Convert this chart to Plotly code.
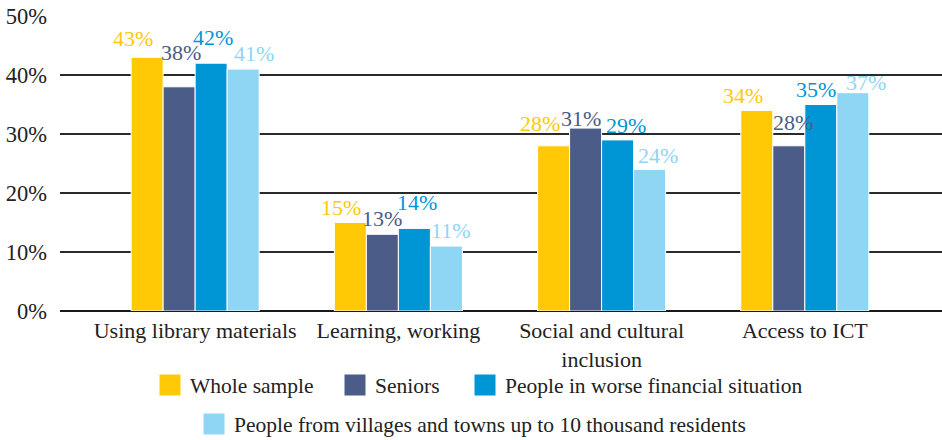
import plotly.graph_objects as go

categories = ["Using library materials", "Learning, working", "Social and cultural<br>inclusion", "Access to ICT"]
series_names = ["Whole sample", "Seniors", "People in worse financial situation",
                "People from villages and towns up to 10 thousand residents"]
whole_sample = [43, 15, 28, 34]
seniors = [38, 13, 31, 28]
worse_financial = [42, 14, 29, 35]
villages_towns = [41, 11, 24, 37]
y_ticks = [0, 10, 20, 30, 40, 50]
y_tick_labels = ["0%", "10%", "20%", "30%", "40%", "50%"]

colors = ["#FFC906", "#4A5C87", "#0096D6", "#8FD6F5"]
all_values = [whole_sample, seniors, worse_financial, villages_towns]

# label nudges (style only): per series, per category -> (dx px, px above bar top)
label_nudges = [
    [(-14, 19), (-9, 15), (-14, 22), (-14, 15)],
    [(2, 34), (0, 16), (-5, 10), (4, 23)],
    [(2, 26), (3, 26), (8, 14), (-5, 15)],
    [(11, 16), (5, 16), (8, 14), (13, 10)],
]
# legend placement (style): container x of text start, row y in px
legend_text_x = [190, 375, 505, 234]
legend_row_y = [385, 385, 385, 424]

FONT = "Liberation Serif, Times New Roman, serif"
BARGAP = 0.37
n_series = len(series_names)
bar_w = (1 - BARGAP) / n_series

fig = go.Figure()
annotations = []
legend_layouts = {}
for j, (name, vals, c) in enumerate(zip(series_names, all_values, colors)):
    lg = "legend" if j == 0 else f"legend{j + 1}"
    fig.add_trace(go.Bar(
        x=categories, y=vals, name=name, showlegend=False,
        marker=dict(color=c, line=dict(color="white", width=1)),
    ))
    fig.add_trace(go.Scatter(
        x=[None], y=[None], mode="markers", name=name, legend=lg, showlegend=True,
        marker=dict(symbol="square", size=16, color=c, line=dict(color=c, width=5)),
    ))
    for i, v in enumerate(vals):
        dx, up = label_nudges[j][i]
        annotations.append(dict(
            x=i + (j - (n_series - 1) / 2) * bar_w, y=v, xref="x", yref="y",
            text=f"{v}%", showarrow=False, xanchor="center", yanchor="middle",
            xshift=dx, yshift=up, font=dict(size=22, color=c, family=FONT),
        ))
    legend_layouts[lg] = dict(
        orientation="h", xref="container", yref="container",
        x=(legend_text_x[j] - 40) / 942, xanchor="left",
        y=1 - legend_row_y[j] / 440, yanchor="middle",
        font=dict(size=21.5, color="#222", family=FONT),
        bgcolor="rgba(0,0,0,0)", borderwidth=0,
    )

fig.update_layout(
    width=942, height=440,
    margin=dict(l=60, r=0, t=16, b=129, autoexpand=False),
    barmode="group", bargap=BARGAP, bargroupgap=0,
    plot_bgcolor="white", paper_bgcolor="white",
    font=dict(family=FONT, size=22, color="#222"),
    xaxis=dict(type="category", range=[-0.665, 3.675], showline=False, ticks="",
               ticklabelstandoff=4,
               tickfont=dict(size=22, color="#222")),
    yaxis=dict(range=[0, 50], tickvals=y_ticks, ticktext=y_tick_labels,
               showgrid=True, gridcolor="#2a2a2a", gridwidth=1.5,
               zeroline=True, zerolinecolor="#1a1a1a", zerolinewidth=2.2,
               ticks="", ticklabelstandoff=12,
               tickfont=dict(size=22.5, color="#222")),
    annotations=annotations,
    showlegend=True,
    **legend_layouts,
)

fig.write_html("out.html")
